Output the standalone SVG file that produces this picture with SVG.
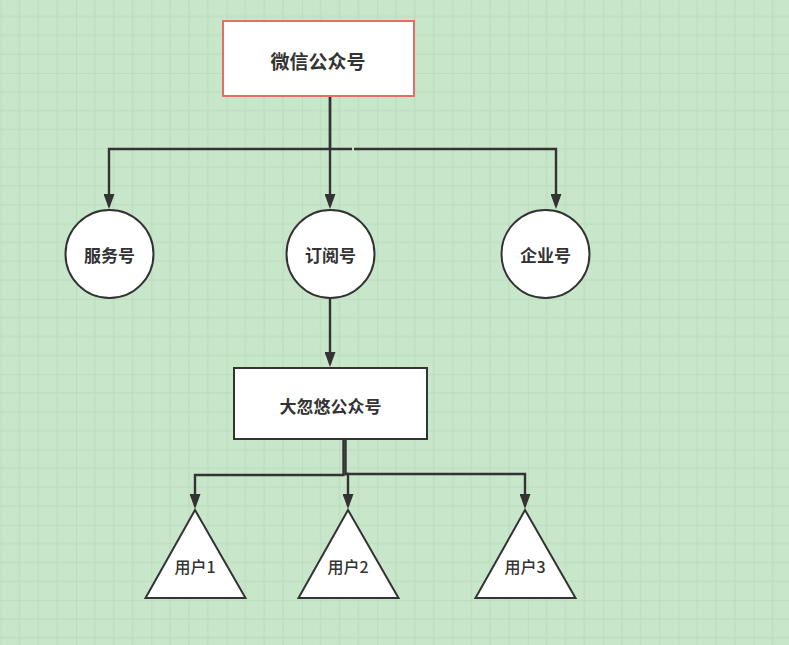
<svg xmlns="http://www.w3.org/2000/svg" width="789" height="645" viewBox="0 0 789 645">
<style>
  .ln{fill:none;stroke:#333;stroke-width:2.4;marker-end:url(#ah)}
  .shp{fill:#fff;stroke:#333;stroke-width:2}
  .t{font-family:"Noto Sans CJK SC","Liberation Sans",sans-serif;fill:#333;text-anchor:middle;dominant-baseline:central}
  .b{font-weight:bold;font-size:17px}
  .u{font-size:16px;font-weight:500}
</style>
<defs>
  <pattern id="grid" x="0.7" y="-2.3" width="75.3" height="75.3" patternUnits="userSpaceOnUse">
    <rect width="75.3" height="75.3" fill="#c8e6c9"/>
    <g fill="#bcdcbe">
      <rect x="18.3" y="0" width="1" height="75.3"/>
      <rect x="37.1" y="0" width="1" height="75.3"/>
      <rect x="56" y="0" width="1" height="75.3"/>
      <rect x="0" y="18.3" width="75.3" height="1"/>
      <rect x="0" y="37.1" width="75.3" height="1"/>
      <rect x="0" y="56" width="75.3" height="1"/>
    </g>
    <g fill="#b3d5b5">
      <rect x="-0.5" y="0" width="1" height="75.3"/>
      <rect x="0" y="-0.5" width="75.3" height="1"/>
    </g>
  </pattern>
  <marker id="ah" viewBox="0 0 15 11" refX="12" refY="5.5" markerWidth="15" markerHeight="11" markerUnits="userSpaceOnUse" orient="auto">
    <path d="M0,0 L15,5.5 L0,11 Z" fill="#333"/>
  </marker>
</defs>
<rect width="789" height="645" fill="url(#grid)"/>

<g id="connectors">
  <path class="ln" d="M330,96 V149 H109 V206"/>
  <path class="ln" d="M330,96 V206"/>
  <path class="ln" d="M330,149 H352 M354,149 H556 V206"/>
  <path class="ln" d="M330,298 V364"/>
  <path class="ln" d="M343.5,439 V475 H195 V506"/>
  <path class="ln" d="M345.5,439 V474 H348 V506"/>
  <path class="ln" d="M345.5,474 H525 V506"/>
</g>

<g id="wechat">
  <rect x="223" y="21" width="191" height="75" fill="#fff" stroke="#ea6b66" stroke-width="2"/>
  <text class="t" x="318" y="60" font-size="19" font-weight="bold">微信公众号</text>
</g>
<g id="service">
  <circle class="shp" cx="109.5" cy="254" r="44"/>
  <text class="t b" x="109.5" y="254">服务号</text>
</g>
<g id="subscribe">
  <circle class="shp" cx="330.5" cy="254" r="44"/>
  <text class="t b" x="330.5" y="254">订阅号</text>
</g>
<g id="enterprise">
  <circle class="shp" cx="545.5" cy="254" r="44"/>
  <text class="t b" x="545.5" y="254">企业号</text>
</g>
<g id="dahuyou">
  <rect class="shp" x="234" y="368" width="193" height="71"/>
  <text class="t b" x="330.5" y="405">大忽悠公众号</text>
</g>
<g id="user1">
  <polygon class="shp" points="195,510 245.5,598 145.5,598"/>
  <text class="t u" x="195" y="566">用户1</text>
</g>
<g id="user2">
  <polygon class="shp" points="348,510 398.5,598 298.5,598"/>
  <text class="t u" x="348" y="566">用户2</text>
</g>
<g id="user3">
  <polygon class="shp" points="525,510 575.5,598 475.5,598"/>
  <text class="t u" x="525" y="566">用户3</text>
</g>
</svg>
